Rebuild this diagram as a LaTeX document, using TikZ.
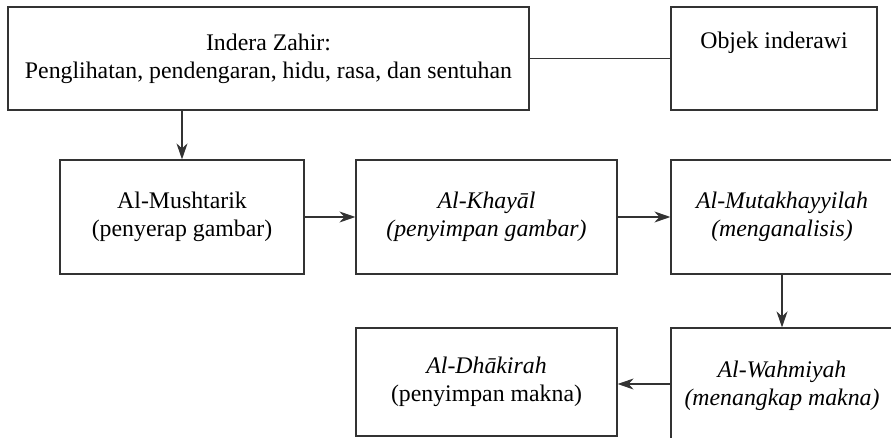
\documentclass[tikz,border=0pt]{standalone}
\usepackage{fontspec}
\setmainfont{Liberation Serif}
\usetikzlibrary{arrows.meta}
\definecolor{linegray}{HTML}{333333}

\begin{document}
\begin{tikzpicture}[x=1pt, y=-1pt, every node/.style={align=center},
  stagebox/.style={draw=linegray, line width=1.2pt, inner sep=0pt, font=\fontsize{23.8}{28}\selectfont},
  flow/.style={draw=linegray, line width=1.2pt, -{Stealth[length=16pt, width=11pt, inset=5pt]}}]
\useasboundingbox (0,0) rectangle (891,438);

% Senses
\node[stagebox, minimum width=521pt, minimum height=103pt] (indera) at (268.5,58.5)
  {Indera Zahir:\\Penglihatan, pendengaran, hidu, rasa, dan sentuhan};
\node[stagebox, minimum width=206pt, minimum height=103pt] (objek) at (774,58.5)
  {Objek inderawi\\\strut};

% Row 2
\node[stagebox, minimum width=244pt, minimum height=114pt] (mushtarik) at (182,217)
  {Al-Mushtarik\\(penyerap gambar)};
\node[stagebox, minimum width=261pt, minimum height=114pt] (khayal) at (486.5,217)
  {\itshape Al-Khay\={a}l\\\itshape(penyimpan gambar)};
\node[stagebox, minimum width=222pt, minimum height=114pt] (mutakhayyilah) at (782,217)
  {\itshape Al-Mutakhayyilah\\\itshape(menganalisis)};

% Row 3
\node[stagebox, minimum width=222pt, minimum height=116pt] (wahmiyah) at (782,386)
  {\itshape Al-Wahmiyah\\\itshape(menangkap makna)};
\node[stagebox, minimum width=261pt, minimum height=108pt] (dhakirah) at (486.5,382)
  {\itshape Al-Dh\={a}kirah\\(penyimpan makna)};

% Connectors
\draw[draw=linegray, line width=1.2pt] (indera.east) -- (objek.west);
\draw[flow] (indera.south -| mushtarik.north) -- (mushtarik.north);
\draw[flow] (mushtarik.east) -- (khayal.west);
\draw[flow] (khayal.east) -- (mutakhayyilah.west);
\draw[flow] (mutakhayyilah.south) -- (wahmiyah.north);
\draw[flow] ([yshift=2pt]wahmiyah.west) -- ([yshift=2pt]wahmiyah.west -| dhakirah.east);
\end{tikzpicture}
\end{document}
